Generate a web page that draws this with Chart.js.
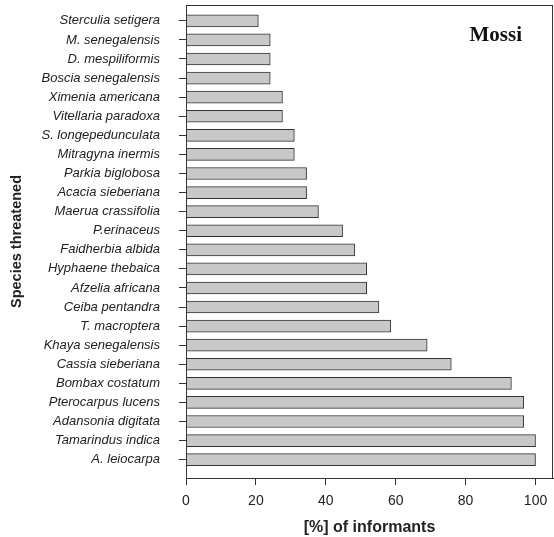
<!DOCTYPE html>
<html lang="en">
<head>
  <meta charset="UTF-8" />
  <title>Species threatened - Mossi</title>
  <script src="https://cdn.jsdelivr.net/npm/chart.js"></script>
  <style>
    body { margin: 0; background: #fff; }
    canvas { display: block; }
  </style>
</head>
<body>
  <canvas id="barChart" width="554" height="537"></canvas>

  <script>
    // Data (top to bottom as drawn)
    const species = [
      "Sterculia setigera", "M. senegalensis", "D. mespiliformis", "Boscia senegalensis",
      "Ximenia americana", "Vitellaria paradoxa", "S. longepedunculata", "Mitragyna inermis",
      "Parkia biglobosa", "Acacia sieberiana", "Maerua crassifolia", "P.erinaceus",
      "Faidherbia albida", "Hyphaene thebaica", "Afzelia africana", "Ceiba pentandra",
      "T. macroptera", "Khaya senegalensis", "Cassia sieberiana", "Bombax costatum",
      "Pterocarpus lucens", "Adansonia digitata", "Tamarindus indica", "A. leiocarpa"
    ];
    const informants = [
      20.7, 24.1, 24.1, 24.1,
      27.6, 27.6, 31.0, 31.0,
      34.5, 34.5, 37.9, 44.8,
      48.3, 51.7, 51.7, 55.2,
      58.6, 69.0, 75.9, 93.1,
      96.6, 96.6, 100, 100
    ];
    const xTicks = [0, 20, 40, 60, 80, 100];
    const groupLabel = "Mossi";

    const ink = '#222';

    // box round the plot + group label
    const framePlugin = {
      id: 'frame',
      afterDraw(chart) {
        const { ctx, chartArea: a } = chart;
        ctx.save();
        ctx.strokeStyle = '#333';
        ctx.lineWidth = 1;
        ctx.strokeRect(Math.round(a.left) + 0.5, Math.round(a.top) + 0.5,
                       Math.round(a.right - a.left) - 1, Math.round(a.bottom - a.top));
        ctx.fillStyle = '#111';
        ctx.font = 'bold 21px "Liberation Serif", "DejaVu Serif", serif';
        ctx.textAlign = 'right';
        ctx.textBaseline = 'alphabetic';
        ctx.fillText(groupLabel, a.right - 31, a.top + 36);
        ctx.restore();
      }
    };

    new Chart(document.getElementById('barChart'), {
      type: 'bar',
      data: {
        datasets: [{
          label: '[%] of informants',
          data: informants.map((v, i) => ({ x: v, y: i })),
          backgroundColor: '#c8c8c8',
          borderColor: '#333',
          borderWidth: 1,
          barThickness: 12
        }]
      },
      options: {
        indexAxis: 'y',
        responsive: false,
        animation: false,
        devicePixelRatio: 1,
        layout: { padding: { top: 5, right: 1, bottom: 0, left: 0 } },
        plugins: {
          legend: { display: false },
          tooltip: { enabled: false }
        },
        scales: {
          x: {
            type: 'linear',
            min: 0,
            max: 105,
            afterBuildTicks: axis => { axis.ticks = xTicks.map(v => ({ value: v })); },
            afterFit: axis => { axis.height = 59; axis.paddingLeft = 0; axis.paddingRight = 0; },
            grid: { display: true, drawOnChartArea: false, drawTicks: true, tickLength: 7, color: '#333' },
            border: { display: true, color: '#333', width: 1 },
            ticks: {
              color: ink,
              padding: 8,
              font: { family: '"Liberation Sans", Arial, sans-serif', size: 14 }
            },
            title: {
              display: true,
              text: '[%] of informants',
              color: ink,
              padding: { top: 0, bottom: 0 },
              font: { family: '"Liberation Sans", Arial, sans-serif', size: 16, weight: 'bold' }
            }
          },
          y: {
            type: 'linear',
            reverse: true,
            offset: false,
            min: -0.83,
            max: 23.96,
            afterBuildTicks: axis => { axis.ticks = species.map((s, i) => ({ value: i })); },
            afterFit: axis => { axis.width = 186; axis.paddingTop = 0; axis.paddingBottom = 0; },
            grid: { display: true, offset: false, drawOnChartArea: false, drawTicks: true, tickLength: 7, color: '#333' },
            border: { display: true, color: '#333', width: 1 },
            ticks: {
              color: ink,
              padding: 19,
              autoSkip: false,
              callback: v => species[v],
              font: { family: '"Liberation Sans", Arial, sans-serif', size: 13, style: 'italic' }
            },
            title: {
              display: true,
              text: 'Species threatened',
              color: ink,
              padding: { top: 8, bottom: 0 },
              font: { family: '"Liberation Sans", Arial, sans-serif', size: 14.5, weight: 'bold' }
            }
          }
        }
      },
      plugins: [framePlugin]
    });
  </script>
</body>
</html>
